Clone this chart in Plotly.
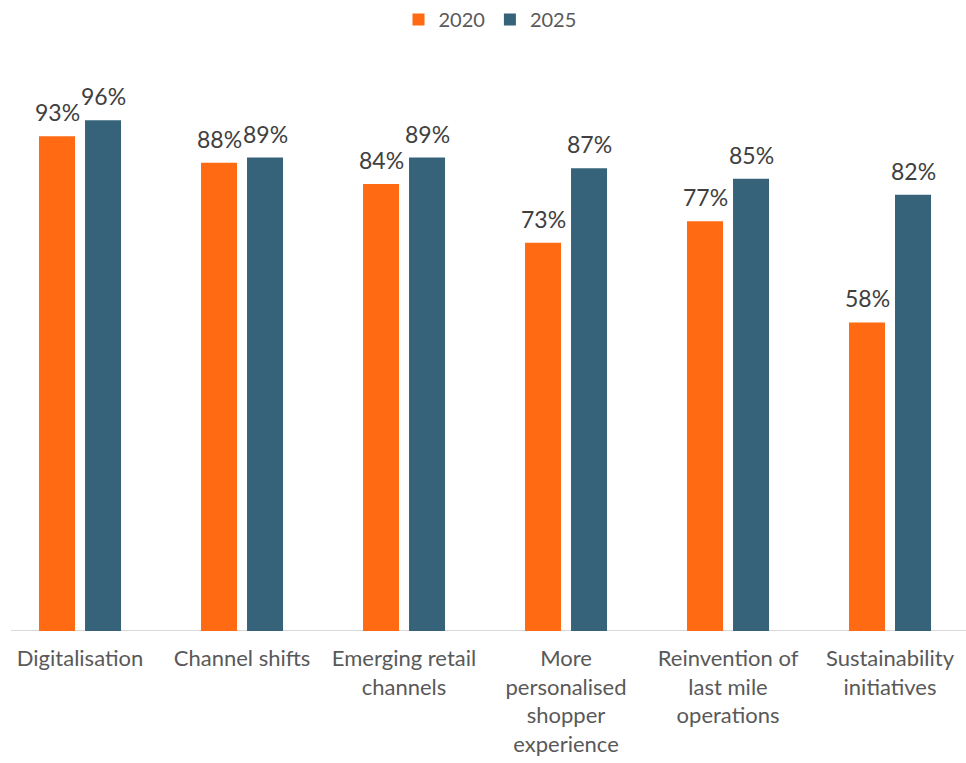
import plotly.graph_objects as go

categories = ["Digitalisation", "Channel shifts", "Emerging retail<br>channels",
              "More<br>personalised<br>shopper<br>experience",
              "Reinvention of<br>last mile<br>operations", "Sustainability<br>initiatives"]
values_2020 = [93, 88, 84, 73, 77, 58]
values_2025 = [96, 89, 89, 87, 85, 82]
series_names = ["2020", "2025"]

FONT = "Lato, 'Open Sans', sans-serif"
x = list(range(len(categories)))

fig = go.Figure()
for name, vals, color, shift in [(series_names[0], values_2020, "#FF6A13", -23),
                                 (series_names[1], values_2025, "#36637A", 23)]:
    fig.add_trace(go.Bar(
        name=name, x=x, y=vals,
        marker=dict(color=color, line=dict(width=0)),
        hovertemplate="%{y}%<extra>" + name + "</extra>",
    ))
    for xi, v in zip(x, vals):
        fig.add_annotation(x=xi, y=v, text=f"{v}%", showarrow=False,
                           xshift=shift, yshift=8, yanchor="bottom",
                           font=dict(family=FONT, size=23, color="#404040"))

fig.update_layout(
    width=966, height=763,
    margin=dict(l=0, r=0, t=99, b=132),
    paper_bgcolor="white", plot_bgcolor="white",
    barmode="group", bargap=0.432, bargroupgap=0.217,
    font=dict(family=FONT, color="#595959"),
    legend=dict(orientation="h", x=0.5 + 7/966, xanchor="center", y=1.0, yref="container",
                yanchor="top", font=dict(size=20, color="#595959"), itemwidth=30,
                traceorder="normal"),
    xaxis=dict(tickmode="array", tickvals=x, ticktext=categories,
               range=[-0.494, 5.469], showgrid=False, zeroline=False,
               showline=False, ticks="", ticklabelstandoff=12,
               tickfont=dict(size=22, color="#595959")),
    yaxis=dict(range=[0, 100], visible=False, showgrid=False, zeroline=False),
    shapes=[dict(type="line", xref="paper", yref="y", x0=11/966, x1=1, y0=0, y1=0,
                 line=dict(color="#D9D9D9", width=2), layer="below")],
)

fig.write_html("out.html", config={"displayModeBar": False},
               post_script="document.body.style.margin='0';")
